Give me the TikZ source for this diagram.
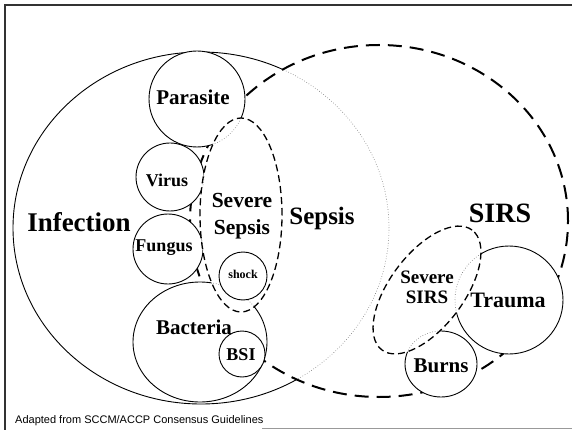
\documentclass[tikz,border=0pt]{standalone}
\usepackage{fontspec}
\setmainfont{Liberation Serif}
\newfontfamily\capfont{Liberation Sans}
\begin{document}
\begin{tikzpicture}[x=1pt,y=-1pt,
  lbl/.style={font=\bfseries, inner sep=0pt, align=center},
  solidline/.style={line width=0.9pt, draw=black},
  dotline/.style={line width=0.6pt, draw=black!55, dotted},
  sirsline/.style={line width=2pt, draw=black, dash pattern=on 14pt off 8pt},
  sevline/.style={line width=1.3pt, draw=black, dash pattern=on 7pt off 4pt},
  framel/.style={line width=1.2pt, draw=black!80}]
\useasboundingbox (0,0) rectangle (572,430);
\fill[white] (0,0) rectangle (572,430);
% frame
\coordinate (ftl) at (5,5);
\coordinate (ftr) at (572,5);
\coordinate (fbl) at (5,430);
\coordinate (bl1) at (262,428);
\coordinate (bl2) at (572,428);
\draw[framel] (fbl) -- (ftl) -- (ftr);
\draw[line width=0.6pt, black!40] (bl1) -- (bl2);
% Infection: solid outside SIRS, dotted inside
\draw[solidline] (201,228) ellipse [x radius=188pt, y radius=176pt];
\begin{scope}
  \clip (379,221) ellipse [x radius=189pt, y radius=176pt];
  \fill[white] (-10,-10) rectangle (590,440);
  \draw[dotline] (201,228) ellipse [x radius=188pt, y radius=176pt];
\end{scope}
% SIRS
\draw[sirsline] (379,221) ellipse [x radius=189pt, y radius=176pt];
% infection sub-circles
\draw[solidline, fill=white] (197,99) circle [radius=48pt];
\draw[solidline, fill=white] (170,177) circle [radius=34pt];
\draw[solidline, fill=white] (168,249) circle [radius=35pt];
\draw[solidline, fill=white] (200,342) ellipse [x radius=67pt, y radius=60pt];
\begin{scope}
  \clip (241,215) ellipse [x radius=41pt, y radius=97pt];
  \fill[white] (-10,-10) rectangle (590,440);
  \draw[dotline] (197,99) circle [radius=48pt];
  \draw[dotline] (170,177) circle [radius=34pt];
  \draw[dotline] (168,249) circle [radius=35pt];
  \draw[dotline] (200,342) ellipse [x radius=67pt, y radius=60pt];
\end{scope}
\draw[solidline, fill=white] (242,354) circle [radius=23pt];
% Severe sepsis
\draw[sevline] (241,215) ellipse [x radius=41pt, y radius=97pt];
\draw[solidline, fill=white] (243,276) circle [radius=24pt];
% SIRS sub-circles
\draw[solidline, fill=white] (509,300) circle [radius=54pt];
\draw[solidline, fill=white] (441,364) ellipse [x radius=36pt, y radius=33pt];
\begin{scope}
  \clip[rotate around={53:(427,290)}] (427,290) ellipse [x radius=75pt, y radius=37pt];
  \fill[white] (-10,-10) rectangle (590,440);
  \draw[dotline] (509,300) circle [radius=54pt];
  \draw[dotline] (441,364) ellipse [x radius=36pt, y radius=33pt];
\end{scope}
\draw[sevline, rotate around={53:(427,290)}] (427,290) ellipse [x radius=75pt, y radius=37pt];
% labels
\node[lbl, font=\fontsize{27}{27}\selectfont\bfseries] (infection) at (79,222) {Infection};
\node[lbl, font=\fontsize{25}{25}\selectfont\bfseries] (sepsis) at (322,218) {Sepsis};
\node[lbl, font=\fontsize{28}{28}\selectfont\bfseries] (sirs) at (500,213) {SIRS};
\node[lbl, font=\fontsize{21}{21}\selectfont\bfseries] (parasite) at (193,97) {Parasite};
\node[lbl, font=\fontsize{18}{18}\selectfont\bfseries] (virus) at (167,180) {Virus};
\node[lbl, font=\fontsize{18}{18}\selectfont\bfseries] (fungus) at (164,248) {Fungus};
\node[lbl, font=\fontsize{21.5}{27}\selectfont\bfseries] (sevsep) at (242,216) {Severe\\Sepsis};
\node[lbl, font=\fontsize{12}{12}\selectfont\bfseries] (shock) at (243,274) {shock};
\node[lbl, font=\fontsize{21}{21}\selectfont\bfseries] (bacteria) at (194,327) {Bacteria};
\node[lbl, font=\fontsize{18}{18}\selectfont\bfseries] (bsi) at (241,355) {BSI};
\node[lbl, font=\fontsize{22}{22}\selectfont\bfseries] (trauma) at (508,300) {Trauma};
\node[lbl, font=\fontsize{21}{21}\selectfont\bfseries] (burns) at (441,366) {Burns};
\node[lbl, font=\fontsize{19}{20}\selectfont\bfseries] (sevsirs) at (427,287) {Severe\\SIRS};
\node[inner sep=0pt, anchor=west, font=\capfont\fontsize{11}{11}\selectfont] (caption) at (15,421) {Adapted from SCCM/ACCP Consensus Guidelines};
\end{tikzpicture}
\end{document}
